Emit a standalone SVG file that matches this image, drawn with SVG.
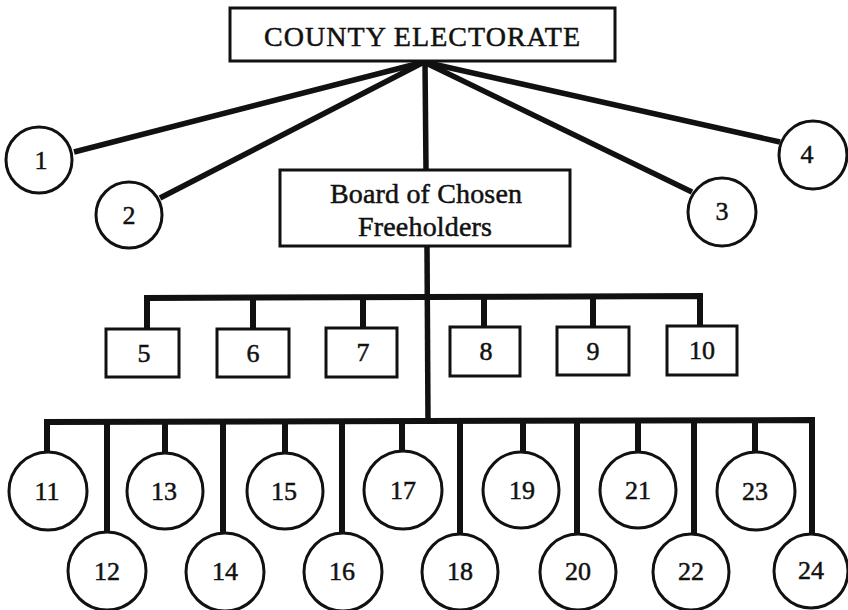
<svg xmlns="http://www.w3.org/2000/svg" width="848" height="610" viewBox="0 0 848 610">
<style>
.box{fill:#fff;stroke:#111;stroke-width:3}
.circ{fill:#fff;stroke:#111;stroke-width:3}
.con{fill:none;stroke:#111;stroke-width:5.5;stroke-linecap:butt}
.drop{fill:none;stroke:#111;stroke-width:6}
text{font-family:"Liberation Serif","Times New Roman",serif;fill:#111;stroke:#111;stroke-width:0.5;text-anchor:middle}
.num{font-size:26px}
.big{font-size:28px}
</style>
<rect width="848" height="610" fill="#fff"/>
<g id="connectors">
<line class="con" x1="424" y1="62" x2="74" y2="152"/>
<line class="con" x1="424" y1="62" x2="160" y2="198"/>
<line class="con" x1="424" y1="62" x2="692" y2="192"/>
<line class="con" x1="424" y1="62" x2="780" y2="142"/>
<line class="con" x1="425" y1="61" x2="426" y2="170"/>
<line class="con" x1="427" y1="246" x2="428" y2="421"/>
<polyline class="drop" points="147,329 147,298 700,296 700,327" stroke-linejoin="miter"/>
<line class="drop" x1="253" y1="298" x2="253" y2="329"/>
<line class="drop" x1="363" y1="298" x2="363" y2="329"/>
<line class="drop" x1="484" y1="297" x2="484" y2="328"/>
<line class="drop" x1="593" y1="297" x2="593" y2="328"/>
<polyline class="drop" points="47,453 47,422 812,420 812,533"/>
<line class="drop" x1="107" y1="422" x2="107" y2="533"/>
<line class="drop" x1="165" y1="422" x2="165" y2="453"/>
<line class="drop" x1="223" y1="422" x2="223" y2="533"/>
<line class="drop" x1="285" y1="422" x2="285" y2="453"/>
<line class="drop" x1="342" y1="422" x2="342" y2="533"/>
<line class="drop" x1="402" y1="421" x2="402" y2="452"/>
<line class="drop" x1="460" y1="421" x2="460" y2="533"/>
<line class="drop" x1="523" y1="421" x2="523" y2="452"/>
<line class="drop" x1="577" y1="421" x2="577" y2="534"/>
<line class="drop" x1="638" y1="421" x2="638" y2="452"/>
<line class="drop" x1="694" y1="421" x2="694" y2="534"/>
<line class="drop" x1="755" y1="420" x2="755" y2="452"/>
</g>
<g id="county-electorate">
<rect class="box" x="230" y="8" width="385" height="53"/>
<text class="big" x="422" y="46" textLength="316" lengthAdjust="spacing">COUNTY ELECTORATE</text>
</g>
<g id="board">
<rect class="box" x="280" y="170" width="290" height="76"/>
<text class="big" x="426" y="203" textLength="192" lengthAdjust="spacing">Board of Chosen</text>
<text class="big" x="425" y="236" textLength="134" lengthAdjust="spacing">Freeholders</text>
</g>
<g id="n1"><circle class="circ" cx="39" cy="160" r="33"/><text class="num" x="41" y="169">1</text></g>
<g id="n2"><circle class="circ" cx="129" cy="215" r="33"/><text class="num" x="129" y="224">2</text></g>
<g id="n3"><circle class="circ" cx="722" cy="212" r="34"/><text class="num" x="722" y="220">3</text></g>
<g id="n4"><circle class="circ" cx="813" cy="155" r="34"/><text class="num" x="807" y="163">4</text></g>
<g id="n5"><rect class="box" x="106" y="329" width="73" height="48"/><text class="num" x="144" y="362">5</text></g>
<g id="n6"><rect class="box" x="217" y="329" width="72" height="48"/><text class="num" x="253" y="362">6</text></g>
<g id="n7"><rect class="box" x="326" y="328" width="71" height="49"/><text class="num" x="363" y="361">7</text></g>
<g id="n8"><rect class="box" x="450" y="327" width="70" height="49"/><text class="num" x="486" y="360">8</text></g>
<g id="n9"><rect class="box" x="557" y="327" width="72" height="48"/><text class="num" x="593" y="360">9</text></g>
<g id="n10"><rect class="box" x="667" y="326" width="70" height="49"/><text class="num" x="702" y="359">10</text></g>
<g id="n11"><circle class="circ" cx="48" cy="491" r="39"/><text class="num" x="47" y="500">11</text></g>
<g id="n12"><circle class="circ" cx="107" cy="571" r="39"/><text class="num" x="107" y="580">12</text></g>
<g id="n13"><circle class="circ" cx="165" cy="491" r="38"/><text class="num" x="164" y="500">13</text></g>
<g id="n14"><circle class="circ" cx="225" cy="572" r="39"/><text class="num" x="225" y="580">14</text></g>
<g id="n15"><circle class="circ" cx="285" cy="491" r="38"/><text class="num" x="284" y="500">15</text></g>
<g id="n16"><circle class="circ" cx="343" cy="572" r="39"/><text class="num" x="342" y="580">16</text></g>
<g id="n17"><circle class="circ" cx="403" cy="490" r="39"/><text class="num" x="403" y="499">17</text></g>
<g id="n18"><circle class="circ" cx="460" cy="572" r="38"/><text class="num" x="460" y="580">18</text></g>
<g id="n19"><circle class="circ" cx="521" cy="490" r="38"/><text class="num" x="522" y="499">19</text></g>
<g id="n20"><circle class="circ" cx="578" cy="572" r="38"/><text class="num" x="578" y="580">20</text></g>
<g id="n21"><circle class="circ" cx="638" cy="490" r="38"/><text class="num" x="638" y="499">21</text></g>
<g id="n22"><circle class="circ" cx="691" cy="572" r="38"/><text class="num" x="691" y="580">22</text></g>
<g id="n23"><circle class="circ" cx="756" cy="491" r="39"/><text class="num" x="755" y="500">23</text></g>
<g id="n24"><circle class="circ" cx="811" cy="571" r="37"/><text class="num" x="811" y="579">24</text></g>
</svg>
